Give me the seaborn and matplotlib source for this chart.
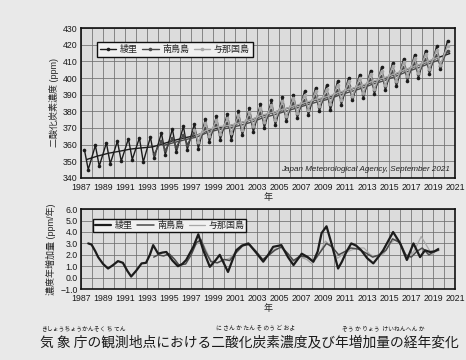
import numpy as np
import pandas as pd
import matplotlib
matplotlib.use('Agg')
import matplotlib.pyplot as plt
import seaborn as sns

# 月平均濃度の山（春）と谷（夏）の読み取り値 (ppm)
ryori_peak_years = np.arange(1987, 2021)
ryori_peaks = [357, 359.5, 361, 362, 363.5, 364, 364.5, 367, 369.5, 371,
               372.5, 375.5, 377, 378.5, 380, 382, 384.5, 386.5, 388.5, 390,
               392, 394, 395.5, 398, 400, 402, 404.5, 406.5, 409, 411.5,
               414, 416.5, 419, 422.5]
ryori_trough_years = np.arange(1987, 2020)
ryori_troughs = [345, 347, 348.5, 350, 351, 349.5, 352, 354, 355.5, 357,
                 357.5, 361.5, 363, 362.5, 365.5, 367.5, 370, 371.5, 374, 376,
                 377.5, 380, 380.5, 384, 386.5, 388, 390.5, 392.5, 395, 398,
                 400, 402.5, 405.5]
ryori_trend_years = np.arange(1987, 2021)
ryori_trend = [351.0, 353.1, 354.8, 356.0, 357.3, 358.0, 358.6, 360.6, 362.6, 364.2,
               365.5, 368.4, 370.2, 371.3, 373.1, 375.0, 377.4, 379.3, 381.4, 383.2,
               385.0, 387.2, 388.5, 391.2, 393.3, 395.2, 397.6, 399.7, 402.2, 405.0,
               407.3, 409.7, 412.4, 414.7]

mnm_peak_years = np.arange(1994, 2021)
mnm_peaks = [362, 364, 366, 367.5, 370, 372, 373, 374.5, 376.5, 379,
             381, 383, 385, 387, 389, 390.5, 393, 395, 397, 399.5,
             401.5, 404, 406.5, 409, 411.5, 414, 416.5]
mnm_trough_years = np.arange(1993, 2020)
mnm_troughs = [354.5, 356.5, 358.5, 360, 361, 364.5, 366, 367, 368.5, 370.5,
               373, 374.5, 376.5, 378.5, 380.5, 382.5, 384, 386.5, 388.5, 390.5,
               393, 395, 397.5, 400.5, 402.5, 405, 407.5]
mnm_trend_years = np.arange(1994, 2020)
mnm_trend = [359.5, 361.3, 363.0, 364.5, 367.3, 369.0, 370.0, 371.6, 373.5, 376.0,
             377.8, 379.8, 381.8, 383.8, 385.7, 387.3, 389.8, 391.8, 393.8, 396.3,
             398.3, 400.8, 403.5, 405.8, 408.3, 410.8]

yon_peak_years = np.arange(1997, 2021)
yon_peaks = [369, 373, 375, 376, 377.5, 379.5, 382, 384, 386, 388,
             390, 392, 393.5, 396, 398, 400, 402.5, 404.5, 407, 409.5,
             412, 414.5, 417, 419.5]
yon_trough_years = np.arange(1997, 2020)
yon_troughs = [361.5, 365, 366.5, 367, 369, 371, 373.5, 375, 377, 379,
               381, 383, 384.5, 387, 389, 391, 393.5, 395.5, 398, 401,
               403, 405.5, 408]
yon_trend_years = np.arange(1997, 2020)
yon_trend = [365.2, 369.0, 370.8, 371.5, 373.2, 375.2, 377.8, 379.5, 381.5, 383.5,
             385.5, 387.5, 389.0, 391.5, 393.5, 395.5, 398.0, 400.0, 402.5, 405.2,
             407.5, 410.0, 412.5]

# 濃度年増加量 (ppm/年)
ryori_gr_t = [1987.65, 1987.95, 1988.3, 1988.55, 1989.0, 1989.45, 1989.9, 1990.35, 1990.8, 1991.2,
              1991.55, 1992.0, 1992.5, 1992.9, 1993.25, 1993.55, 1994.0, 1994.4, 1994.75, 1995.3,
              1995.8, 1996.2, 1996.55, 1997.2, 1997.65, 1998.1, 1998.7, 1999.2, 1999.6, 2000.0,
              2000.35, 2000.7, 2001.1, 2001.6, 2002.2, 2002.9, 2003.55, 2004.0, 2004.45, 2005.2,
              2005.8, 2006.3, 2007.05, 2007.6, 2008.1, 2008.5, 2008.85, 2009.3, 2009.75, 2010.35,
              2010.7, 2011.1, 2011.55, 2012.0, 2012.45, 2013.0, 2013.55, 2014.0, 2014.45, 2014.9,
              2015.35, 2016.0, 2016.6, 2017.2, 2017.8, 2018.25, 2018.7, 2019.1, 2019.45]
ryori_gr = [3.0, 2.9, 2.3, 1.8, 1.2, 0.8, 1.1, 1.45, 1.3, 0.6,
            0.1, 0.6, 1.25, 1.3, 2.0, 2.85, 2.1, 2.2, 2.25, 1.5,
            1.0, 1.2, 1.55, 2.7, 3.8, 2.4, 0.95, 1.5, 2.0, 1.2,
            0.5, 1.4, 2.4, 2.8, 3.0, 2.2, 1.4, 2.0, 2.7, 2.85,
            1.8, 1.1, 2.1, 1.8, 1.4, 2.3, 3.9, 4.5, 3.0, 0.8,
            1.4, 2.25, 3.0, 2.8, 2.4, 1.7, 1.25, 1.8, 2.4, 3.2,
            4.0, 3.0, 1.55, 3.0, 1.8, 2.4, 2.25, 2.3, 2.5]

mnm_gr_t = [1993.6, 1994.0, 1994.5, 1995.0, 1995.5, 1995.9, 1996.5, 1997.0, 1997.5, 1997.9,
            1998.3, 1998.8, 1999.4, 2000.0, 2000.5, 2001.1, 2001.7, 2002.3, 2002.9, 2003.5,
            2004.1, 2004.6, 2005.2, 2005.8, 2006.3, 2006.9, 2007.5, 2008.1, 2008.7, 2009.3,
            2009.8, 2010.4, 2011.0, 2011.5, 2012.2, 2012.8, 2013.5, 2014.1, 2014.7, 2015.3,
            2015.9, 2016.5, 2017.0, 2017.5, 2018.0, 2018.6, 2019.1, 2019.5]
mnm_gr = [1.8, 2.0, 1.9, 2.1, 1.6, 1.1, 1.2, 2.0, 3.1, 3.3,
          2.3, 1.4, 1.3, 1.6, 1.5, 2.2, 2.8, 2.9, 2.3, 1.6,
          2.0, 2.4, 2.7, 2.1, 1.5, 1.9, 1.8, 1.4, 2.2, 3.0,
          2.7, 2.0, 2.3, 2.6, 2.5, 2.2, 1.8, 2.0, 2.4, 3.4,
          3.1, 2.0, 1.8, 2.3, 2.6, 2.0, 2.3, 2.4]

yon_gr_t = [1997.5, 1997.9, 1998.3, 1998.8, 1999.3, 1999.9, 2000.5, 2001.1, 2001.7, 2002.3,
            2002.9, 2003.5, 2004.1, 2004.6, 2005.2, 2005.8, 2006.3, 2006.9, 2007.5, 2008.0,
            2008.6, 2009.2, 2009.7, 2010.3, 2010.9, 2011.5, 2012.1, 2012.7, 2013.3, 2013.9,
            2014.5, 2015.1, 2015.6, 2016.2, 2016.7, 2017.3, 2017.9, 2018.4, 2018.9, 2019.5]
yon_gr = [2.9, 3.4, 2.5, 1.5, 1.3, 1.5, 1.7, 2.3, 2.9, 3.0,
          2.2, 1.5, 2.1, 2.5, 2.6, 2.0, 1.4, 1.8, 1.6, 1.2,
          2.0, 3.2, 2.8, 1.7, 2.1, 2.4, 2.6, 2.6, 2.0, 1.8,
          2.1, 3.0, 3.4, 2.7, 1.6, 2.4, 3.6, 2.8, 2.0, 2.6]

stations = ['綾里', '南鳥島', '与那国島']
colors = ['#1c1c1c', '#4a4a4a', '#a8a8a8']


def zigzag(peak_years, peaks, trough_years, troughs):
    t = np.concatenate([peak_years + 0.3, trough_years + 0.65])
    v = np.concatenate([peaks, troughs])
    order = np.argsort(t)
    return pd.DataFrame({'年': t[order], 'ppm': v[order]})


sns.set_theme(style='whitegrid')
plt.rcParams['font.family'] = ['Liberation Sans', 'Noto Sans CJK JP']
plt.rcParams['font.size'] = 6.3
plt.rcParams['axes.unicode_minus'] = True

fig = plt.figure(figsize=(4.66, 3.6), dpi=100, facecolor='#e9e9e9')
ax1 = fig.add_axes([0.174, 0.506, 0.803, 0.416])
ax2 = fig.add_axes([0.174, 0.197, 0.803, 0.222])

# 上段：濃度
top = [
    (zigzag(ryori_peak_years, ryori_peaks, ryori_trough_years, ryori_troughs), ryori_trend_years, ryori_trend),
    (zigzag(mnm_peak_years, mnm_peaks, mnm_trough_years, mnm_troughs), mnm_trend_years, mnm_trend),
    (zigzag(yon_peak_years, yon_peaks, yon_trough_years, yon_troughs), yon_trend_years, yon_trend),
]
handles = []
for (df, ty, tv), name, c in zip(top, stations, colors):
    sns.lineplot(data=df, x='年', y='ppm', ax=ax1, color=c, linewidth=1.0,
                 marker='o', markersize=2.6, markeredgewidth=0, estimator=None)
    handles.append(ax1.lines[-1])
    handles[-1].set_label(name)
    sns.lineplot(x=ty + 0.5, y=tv, ax=ax1, color=c, linewidth=1.0, estimator=None)

# 下段：年増加量
bottom = [(ryori_gr_t, ryori_gr, 1.6), (mnm_gr_t, mnm_gr, 1.1), (yon_gr_t, yon_gr, 0.9)]
gr_handles = []
for (t, v, lw), name, c in zip(bottom, stations, colors):
    sns.lineplot(x=t, y=v, ax=ax2, color=c, linewidth=lw, estimator=None)
    gr_handles.append(ax2.lines[-1])
    gr_handles[-1].set_label(name)
for h, z in zip(gr_handles, [3, 2, 1]):
    h.set_zorder(z + 1)

for ax in (ax1, ax2):
    ax.set_facecolor('#dcdcdc')
    ax.set_xlim(1987, 2021)
    ax.set_xticks(range(1987, 2022, 2))
    ax.set_xticks(range(1987, 2022), minor=True)
    ax.grid(True, which='both', color='#6e6e6e', linewidth=0.55)
    ax.tick_params(which='both', length=0, labelsize=6.3, colors='#1a1a1a')
    ax.tick_params(axis='x', pad=3.5)
    ax.tick_params(axis='y', pad=2.5)
    ax.set_xlabel('年', fontsize=6.5, labelpad=1)
    for s in ax.spines.values():
        s.set_visible(True)
        s.set_color('#111111')
        s.set_linewidth(1.2)

ax1.set_ylim(340, 430)
ax1.set_yticks(range(340, 431, 10))
ax1.set_ylabel('二酸化炭素濃度 (ppm)', fontsize=6.5, labelpad=3)
ax1.text(0.985, 0.035, 'Japan Meteorological Agency, September 2021', transform=ax1.transAxes,
         ha='right', va='bottom', fontsize=5.8, style='italic', color='#222222')

ax2.set_ylim(-1, 6)
ax2.set_yticks(np.arange(-1, 6.1, 1))
ax2.set_yticklabels([f'{v:.1f}'.replace('-', '\u2212') for v in np.arange(-1, 6.1, 1)])
ax2.set_ylabel('濃度年増加量 (ppm/年)', fontsize=6.5, labelpad=3)

for ax, hs, anchor, pad in ((ax1, handles, (0.03, 0.94), 0.35), (ax2, gr_handles, (0.02, 0.93), 0.2)):
    leg = ax.legend(handles=hs, loc='upper left', bbox_to_anchor=anchor, ncol=3,
                    frameon=True, fancybox=False, framealpha=1, facecolor='#f0f0f0',
                    edgecolor='#111111', fontsize=6.5, handlelength=1.8,
                    columnspacing=0.5, handletextpad=0.4, borderpad=pad)
    leg.get_frame().set_linewidth(1.0)

# 図のキャプション（ふりがな付き）
cap_y = 1 - 342 / 360
fig.text(40 / 466, cap_y, '気 象 庁の観測地点における二酸化炭素濃度及び年増加量の経年変化',
         fontsize=9.9, family=['Noto Sans CJK JP'], va='center', color='#1a1a1a')
ruby = [(41, 'きしょうちょう'), (82, 'かんそく ち てん'), (216, 'に さん か たん そ のう ど およ'),
        (342, 'ぞう か りょう  けいねんへん か')]
for x, s in ruby:
    fig.text(x / 466, 1 - 328 / 360, s, fontsize=4.2, family=['Noto Sans CJK JP'],
             va='center', color='#1a1a1a')

fig.savefig('out.png', dpi=100, facecolor=fig.get_facecolor())
